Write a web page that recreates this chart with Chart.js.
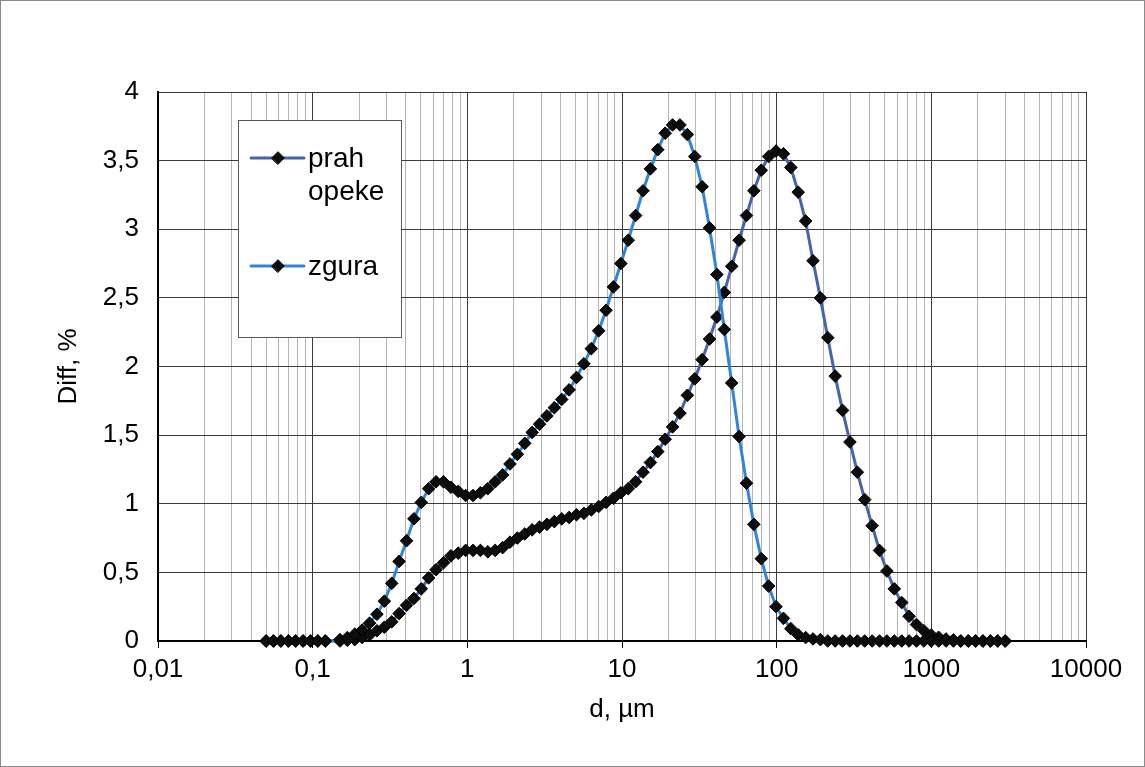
<!DOCTYPE html>
<html>
<head>
<meta charset="utf-8">
<script src="https://cdn.jsdelivr.net/npm/chart.js@4.4.1/dist/chart.umd.min.js"></script>
<style>
  html, body { margin: 0; padding: 0; background: #ffffff; }
  #wrap { position: relative; width: 1145px; height: 767px; }
  canvas { display: block; }
</style>
</head>
<body>
<div id="wrap"><canvas id="c" width="1145" height="767"></canvas></div>
<script>
// ---- data ----
const diameters = [
  0.05, 0.0558, 0.0623, 0.0696, 0.0777, 0.0867, 0.0968, 0.108, 0.1206, 0.1346,
  0.1502, 0.1677, 0.1872, 0.209, 0.2333, 0.2604, 0.2907, 0.3245, 0.3622, 0.4044,
  0.4514, 0.5039, 0.5625, 0.6279, 0.701, 0.7825, 0.8735, 0.9752, 1.0885, 1.2151,
  1.3565, 1.5143, 1.6904, 1.887, 2.1065, 2.3515, 2.625, 2.9303, 3.2711, 3.6516,
  4.0763, 4.5504, 5.0797, 5.6705, 6.33, 7.0663, 7.8882, 8.8057, 9.8298, 10.973,
  12.247, 13.672, 15.262, 17.037, 19.019, 21.231, 23.7, 26.457, 29.534, 32.969,
  36.804, 41.085, 45.863, 51.198, 57.152, 63.8, 71.22, 79.503, 88.751, 99.07,
  110.6, 123.5, 137.8, 153.9, 171.8, 191.7, 214.0, 238.9, 266.7, 297.7,
  332.4, 371.0, 414.2, 462.3, 516.1, 576.2, 643.2, 718.0, 801.5, 894.7,
  998.5, 1114.6, 1244.3, 1389.0, 1550.5, 1730.9, 1932.1, 2156.9, 2407.7, 2687.7,
  3000
];

const prahOpeke = [
  0, 0, 0, 0, 0, 0, 0, 0, 0, null,
  0, 0.005, 0.01, 0.025, 0.045, 0.075, 0.10, 0.14, 0.20, 0.26,
  0.31, 0.38, 0.46, 0.52, 0.57, 0.62, 0.64, 0.66, 0.66, 0.66,
  0.65, 0.66, 0.68, 0.72, 0.75, 0.78, 0.81, 0.83, 0.85, 0.87,
  0.89, 0.90, 0.92, 0.93, 0.955, 0.98, 1.01, 1.04, 1.08, 1.11,
  1.16, 1.23, 1.30, 1.38, 1.47, 1.56, 1.66, 1.79, 1.91, 2.05,
  2.20, 2.36, 2.54, 2.73, 2.92, 3.10, 3.28, 3.43, 3.53, 3.57,
  3.55, 3.45, 3.27, 3.06, 2.77, 2.50, 2.21, 1.93, 1.68, 1.45,
  1.23, 1.03, 0.84, 0.66, 0.51, 0.38, 0.28, 0.18, 0.12, 0.075,
  0.044, 0.027, 0.015, 0.008, 0, 0, 0, 0, 0, 0,
  0
];

const zgura = [
  0, 0, 0, 0, 0, 0, 0, 0, 0, null,
  0.01, 0.025, 0.05, 0.08, 0.13, 0.195, 0.29, 0.42, 0.58, 0.73,
  0.89, 1.01, 1.11, 1.16, 1.16, 1.12, 1.09, 1.06, 1.06, 1.08,
  1.11, 1.16, 1.21, 1.29, 1.36, 1.44, 1.52, 1.58, 1.64, 1.70,
  1.76, 1.83, 1.92, 2.02, 2.13, 2.26, 2.41, 2.58, 2.75, 2.92,
  3.10, 3.28, 3.44, 3.58, 3.70, 3.76, 3.76, 3.69, 3.53, 3.31,
  3.01, 2.67, 2.27, 1.88, 1.49, 1.15, 0.85, 0.60, 0.40, 0.25,
  0.165, 0.09, 0.045, 0.025, 0.015, 0.01, 0, 0, 0, 0,
  0, 0, 0, 0, 0, 0, 0, 0, 0, 0,
  0, 0, 0, 0, 0, 0, 0, 0, 0, 0,
  0
];

const seriesNames = ['prah opeke', 'zgura'];
const xTickValues = [0.01, 0.1, 1, 10, 100, 1000, 10000];
const xTickLabels = ['0,01', '0,1', '1', '10', '100', '1000', '10000'];
const yTickValues = [0, 0.5, 1, 1.5, 2, 2.5, 3, 3.5, 4];
const yTickLabels = ['0', '0,5', '1', '1,5', '2', '2,5', '3', '3,5', '4'];
const xTitle = 'd, µm';
const yTitle = 'Diff, %';

// ---- chart ----
const FONT = '"Liberation Sans", Arial, Helvetica, sans-serif';
Chart.defaults.font.family = FONT;
Chart.defaults.color = '#000';

const MARKER_R = 6.3;
const isDecade = v => Math.abs(Math.log10(v) - Math.round(Math.log10(v))) < 1e-9;

const pageBg = {
  id: 'pageBg',
  beforeDraw(chart) {
    const c = chart.ctx;
    c.save();
    c.fillStyle = '#ffffff';
    c.fillRect(0, 0, chart.width, chart.height);
    c.restore();
  },
  afterDraw(chart) {
    const c = chart.ctx;
    c.save();
    c.strokeStyle = '#8a8a8a';
    c.lineWidth = 1;
    c.strokeRect(0.5, 0.5, chart.width - 1, chart.height - 1);
    c.restore();
  }
};

const boxLegend = {
  id: 'boxLegend',
  afterDraw(chart) {
    const c = chart.ctx;
    const box = { x: 238, y: 120, w: 164, h: 218 };
    const rows = [158, 266];
    c.save();
    c.fillStyle = '#ffffff';
    c.fillRect(box.x, box.y, box.w, box.h);
    c.strokeStyle = '#595959';
    c.lineWidth = 1;
    c.strokeRect(box.x + 0.5, box.y + 0.5, box.w - 1, box.h - 1);
    chart.data.datasets.forEach((ds, i) => {
      const y = rows[i];
      c.strokeStyle = ds.borderColor;
      c.lineWidth = 3;
      c.lineCap = 'round';
      c.beginPath();
      c.moveTo(251, y);
      c.lineTo(304, y);
      c.stroke();
      c.fillStyle = ds.pointBackgroundColor;
      c.strokeStyle = ds.pointBorderColor;
      c.lineWidth = 1;
      Chart.helpers.drawPoint(c, { pointStyle: 'rectRot', radius: MARKER_R, borderWidth: 1, rotation: 0 }, 278, y);
      c.fillStyle = '#000';
      c.font = '28px ' + FONT;
      c.textAlign = 'left';
      c.textBaseline = 'middle';
      ds.label.split(' ').forEach((line, k) => {
        c.fillText(line, 308, y + 1 + k * 33);
      });
    });
    c.restore();
  }
};

const colors = ['#4763AA', '#2F86D8'];
const series = [prahOpeke, zgura];

new Chart(document.getElementById('c'), {
  type: 'line',
  data: {
    datasets: series.map((vals, s) => ({
      label: seriesNames[s],
      data: diameters.map((d, i) => ({ x: d, y: vals[i] })),
      borderColor: colors[s],
      backgroundColor: colors[s],
      borderWidth: 3,
      tension: 0,
      spanGaps: true,
      fill: false,
      clip: false,
      pointStyle: 'rectRot',
      pointRadius: MARKER_R,
      pointHoverRadius: MARKER_R,
      pointBackgroundColor: '#0d0d0d',
      pointBorderColor: '#000000',
      pointBorderWidth: 1,
      order: s === 0 ? 1 : 0
    }))
  },
  options: {
    responsive: false,
    devicePixelRatio: 1,
    animation: false,
    events: [],
    layout: { padding: { left: 0, right: 59, top: 92, bottom: 20 } },
    plugins: {
      legend: { display: false },
      tooltip: { enabled: false }
    },
    scales: {
      x: {
        type: 'logarithmic',
        position: 'bottom',
        min: 0.01,
        max: 10000,
        afterBuildTicks: (scale) => {
          const t = [];
          for (let e = -2; e < 4; e++) {
            for (let m = 1; m < 10; m++) t.push({ value: m * Math.pow(10, e) });
          }
          t.push({ value: 10000 });
          scale.ticks = t;
        },
        afterFit: (scale) => { scale.height = 106; },
        ticks: {
          autoSkip: false,
          maxRotation: 0,
          minRotation: 0,
          padding: 6,
          font: { size: 26 },
          color: '#000',
          callback: (value) => {
            const k = xTickValues.findIndex(t => Math.abs(t - value) / t < 1e-6);
            return k >= 0 ? xTickLabels[k] : '';
          }
        },
        grid: {
          color: (ctx) => (ctx.tick && isDecade(ctx.tick.value)) ? '#3c3c3c' : '#b5b5b5',
          lineWidth: 1,
          drawTicks: true,
          tickLength: 7,
          tickColor: (ctx) => (ctx.tick && isDecade(ctx.tick.value)) ? '#000' : 'rgba(0,0,0,0)',
          tickWidth: 1
        },
        border: { color: '#000', width: 2 },
        title: {
          display: true,
          text: xTitle,
          font: { size: 26 },
          color: '#000',
          padding: { top: 0, bottom: 22 }
        }
      },
      y: {
        type: 'linear',
        min: 0,
        max: 4,
        afterFit: (scale) => { scale.width = 158; },
        ticks: {
          stepSize: 0.5,
          padding: 19,
          font: { size: 26 },
          color: '#000',
          callback: (value) => {
            const k = yTickValues.findIndex(t => Math.abs(t - value) < 1e-9);
            return k >= 0 ? yTickLabels[k] : '';
          }
        },
        grid: {
          color: '#3c3c3c',
          lineWidth: 1,
          drawTicks: false
        },
        border: { color: '#000', width: 2 },
        title: {
          display: true,
          text: yTitle,
          font: { size: 26 },
          color: '#000',
          padding: { top: 53, bottom: 0 }
        }
      }
    }
  },
  plugins: [pageBg, boxLegend]
});
</script>
</body>
</html>
